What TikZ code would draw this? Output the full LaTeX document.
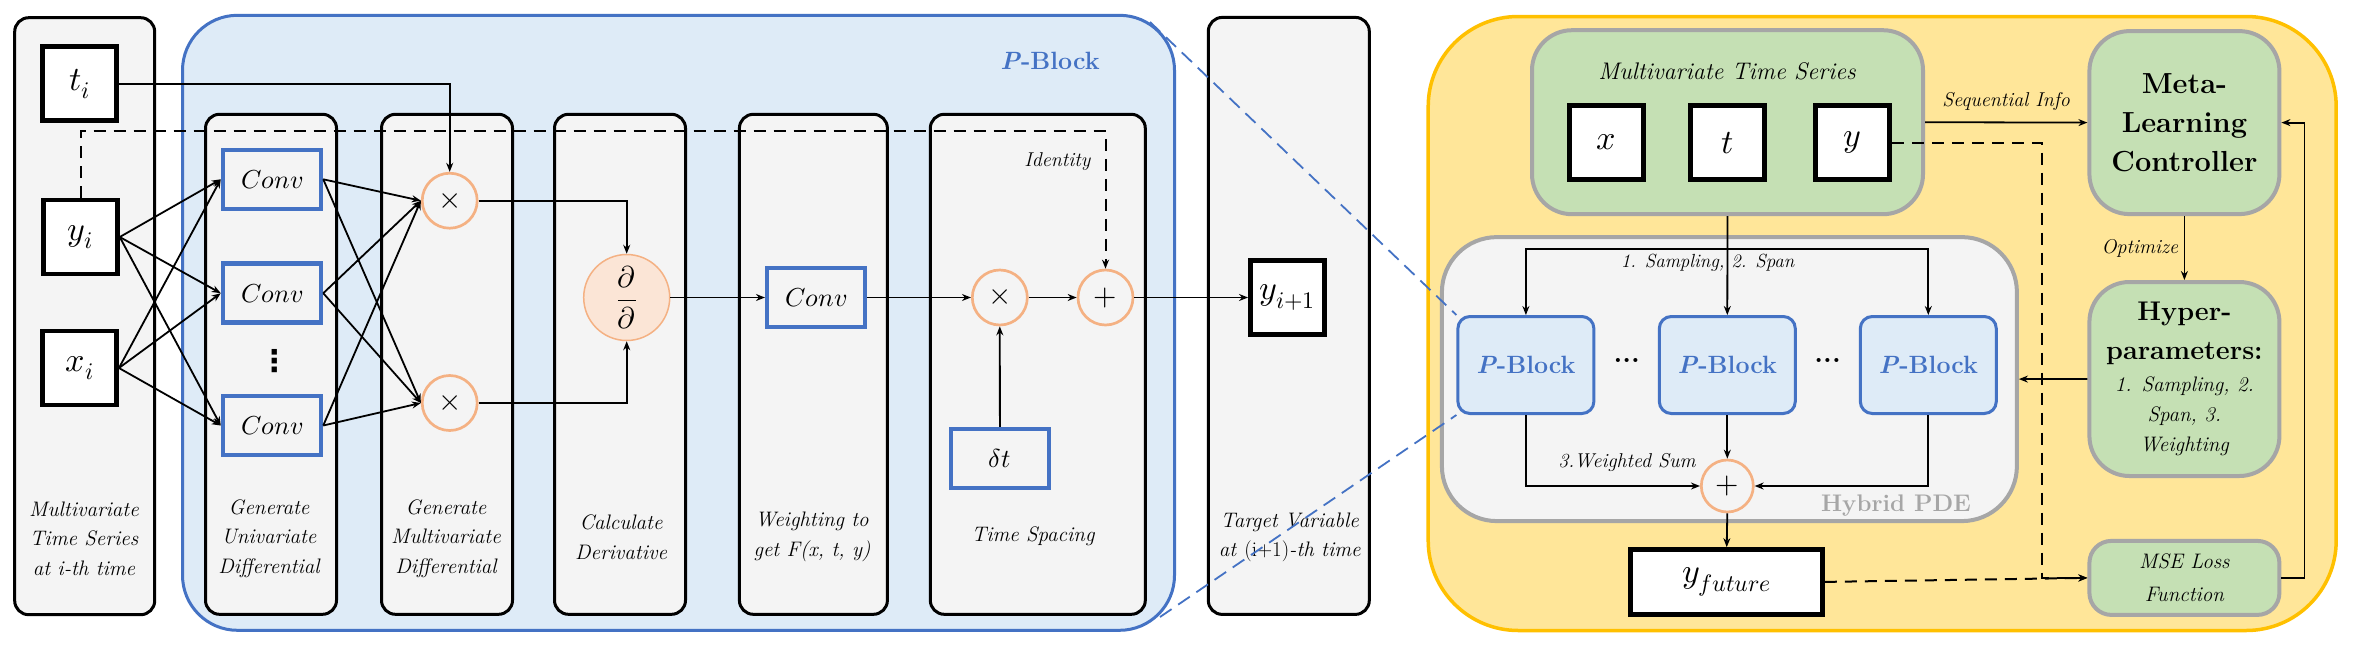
\documentclass[tikz,border=0pt]{standalone}
\usepackage{amsmath}
\usepackage{unicode-math}
\setmathfont{Latin Modern Math}
\newfontfamily\symfont{DejaVu Sans}
\usetikzlibrary{arrows.meta}

\definecolor{panelgray}{HTML}{F4F4F4}
\definecolor{pblue}{HTML}{4472C4}
\definecolor{pbluefill}{HTML}{DEEBF7}
\definecolor{porange}{HTML}{F4B183}
\definecolor{porangefill}{HTML}{FBE5D6}
\definecolor{hyellow}{HTML}{FFE699}
\definecolor{hyellowline}{HTML}{FFC000}
\definecolor{mgreen}{HTML}{C5E0B4}
\definecolor{mgray}{HTML}{A6A6A6}

\begin{document}
\begin{tikzpicture}[>={Stealth[length=9pt,width=7pt]}, x=1pt, y=-1pt]

\tikzset{
  pframe/.style={draw=pblue, line width=3pt, fill=pbluefill, rounded corners=55pt},
  hframe/.style={draw=hyellowline, line width=3.5pt, fill=hyellow, rounded corners=90pt},
  panel/.style={draw, line width=3pt, rounded corners=14pt, fill=panelgray, minimum width=131pt, minimum height=500pt},
  varbox/.style={draw, line width=4.5pt, fill=white, minimum width=74pt, minimum height=74pt, inner sep=0pt, font=\fontsize{34}{40}\selectfont},
  convbox/.style={draw=pblue, line width=4.5pt, fill=panelgray, minimum width=98pt, minimum height=59pt, font=\fontsize{26}{30}\selectfont},
  opnode/.style={circle, draw=porange, line width=2.7pt, minimum size=55pt, inner sep=0pt, font=\fontsize{30}{30}\selectfont},
  lab/.style={align=center, font=\fontsize{21}{29.5}\selectfont\itshape},
  slab/.style={font=\fontsize{20}{24}\selectfont\itshape},
  greenbox/.style={draw=mgray, line width=4pt, fill=mgreen, rounded corners=40pt, minimum width=190pt, align=center},
  pbsmall/.style={draw=pblue, line width=3pt, fill=pbluefill, rounded corners=12pt, minimum width=136pt, minimum height=97pt, text=pblue, font=\fontsize{25}{30}\selectfont\bfseries},
  arr/.style={->, line width=1.8pt},
  darr/.style={->, line width=2pt, dash pattern=on 12pt off 8pt},
  zoomline/.style={draw=pblue, line width=1.8pt, dash pattern=on 14pt off 8pt}
}

\useasboundingbox[fill=white] (0,0) rectangle (2354,646);

% --- Fundos ---
\node[pframe, minimum width=992pt, minimum height=615pt] (pblock) at (678.5,322.8) {};
\node[text=pblue, font=\fontsize{25}{30}\selectfont\bfseries] (ptitle) at (1050,61) {\textit{P}-Block};
\node[hframe, minimum width=908pt, minimum height=614pt] (hpanel) at (1882.2,323.5) {};

% --- Entrada no instante i ---
\node[panel, minimum width=140pt, minimum height=597pt] (inpanel) at (84.7,316.2) {};
\node[varbox] (ti) at (79.7,83.7) {$t_i$};
\node[varbox] (yi) at (80.5,237) {$y_i$};
\node[varbox] (xi) at (79.7,368) {$x_i$};
\node[lab] (inlab) at (84,538.5) {Multivariate\\Time Series\\at i-th time};

% --- Colunas do P-Block ---
\node[panel] (col1) at (271,364.3) {};
\node[panel] (col2) at (447,364.3) {};
\node[panel] (col3) at (620,364.3) {};
\node[panel, minimum width=148pt] (col4) at (813.4,364.3) {};
\node[panel, minimum width=215pt] (col5) at (1037.8,364.3) {};

% Coluna 1: diferenciais univariados
\node[convbox] (conv1) at (272,179.3) {$Conv$};
\node[convbox] (conv2) at (272,293.2) {$Conv$};
\node[convbox] (conv3) at (272,425.5) {$Conv$};
\node[font=\fontsize{30}{30}\selectfont\symfont\bfseries] (vdots) at (274.3,361.5) {⋮};
\node[lab] (lab1) at (269,538.5) {Generate\\Univariate\\Differential};

% Coluna 2: diferenciais multivariados
\node[opnode] (mul1) at (449.7,200.7) {$\times$};
\node[opnode] (mul2) at (449.7,403) {$\times$};
\node[lab] (lab2) at (446,538.5) {Generate\\Multivariate\\Differential};

% Coluna 3: derivada
\node[opnode, fill=porangefill, line width=1.5pt, minimum size=86pt] (deriv) at (626.7,297.5) {$\dfrac{\partial}{\partial}$};
\node[lab] (lab3) at (621,537) {Calculate\\Derivative};

% Coluna 4: pesos
\node[convbox] (conv4) at (816.2,297.5) {$Conv$};
\node[lab] (lab4) at (812,537) {Weighting to\\get F(x, t, y)};

% Coluna 5: espaçamento temporal
\node[opnode] (mul3) at (999.8,297.5) {$\times$};
\node[opnode] (plus1) at (1105.5,297.5) {$+$};
\node[convbox] (dt) at (999.9,458.5) {$\delta t$};
\node[slab, anchor=east] (idlab) at (1094,161.5) {Identity};
\node[lab] (lab5) at (1033,536.5) {Time Spacing};

% --- Saída no instante i+1 ---
\node[panel, minimum width=161pt, minimum height=597pt] (outpanel) at (1288.8,315.9) {};
\node[varbox] (ynext) at (1287.3,297.5) {$y_{i+1}$};
\node[lab] (outlab) at (1289.7,537.5) {Target Variable\\at \textup{(i+1)}-th time};

% --- Setas do P-Block ---
\draw[arr] (ti.east) -| (mul1.north);
\draw[darr] (yi.north) -- ++(0,-67) -| (plus1.north);

\draw[arr] (yi.east) -- (conv1.west);
\draw[arr] (yi.east) -- (conv2.west);
\draw[arr] (yi.east) -- (conv3.west);
\draw[arr] (xi.east) -- (conv1.west);
\draw[arr] (xi.east) -- (conv2.west);
\draw[arr] (xi.east) -- (conv3.west);

\draw[arr] (conv1.east) -- (mul1.west);
\draw[arr] (conv1.east) -- (mul2.west);
\draw[arr] (conv2.east) -- (mul1.west);
\draw[arr] (conv2.east) -- (mul2.west);
\draw[arr] (conv3.east) -- (mul1.west);
\draw[arr] (conv3.east) -- (mul2.west);

\draw[arr] (mul1.east) -| (deriv.north);
\draw[arr] (mul2.east) -| (deriv.south);
\draw[arr] (deriv.east) -- (conv4.west);
\draw[arr] (conv4.east) -- (mul3.west);
\draw[arr] (mul3.east) -- (plus1.west);
\draw[arr] (dt.north) -- (mul3.south);
\draw[arr] (plus1.east) -- (ynext.west);

% --- Painel amarelo: Hybrid PDE com meta-aprendizado ---
\node[greenbox, minimum width=391pt, minimum height=184pt] (mts) at (1727.5,122.2) {};
\node[slab, font=\fontsize{24}{28}\selectfont\itshape] (mtslab) at (1727,70.9) {Multivariate Time Series};
\node[varbox] (vx) at (1606.5,142.6) {$x$};
\node[varbox] (vt) at (1727.6,142.6) {$t$};
\node[varbox] (vy) at (1852.6,142.6) {$y$};

\node[draw=mgray, line width=4pt, fill=panelgray, rounded corners=55pt, minimum width=575pt, minimum height=284pt] (hybrid) at (1729.4,379.1) {};
\node[text=mgray, font=\fontsize{24}{28}\selectfont\bfseries] (hyblab) at (1896,505.6) {Hybrid PDE};

\node[pbsmall] (pbl) at (1525.9,365) {\textit{P}-Block};
\node[pbsmall] (pbm) at (1727.3,365) {\textit{P}-Block};
\node[pbsmall] (pbr) at (1928.3,365) {\textit{P}-Block};
\node[font=\fontsize{28}{30}\selectfont\bfseries] (dots1) at (1626.8,360) {...};
\node[font=\fontsize{28}{30}\selectfont\bfseries] (dots2) at (1827.6,360) {...};
\node[opnode, minimum size=52pt] (plus2) at (1727.3,486) {$+$};
\node[varbox, minimum width=192pt, minimum height=65pt] (yfut) at (1726.7,581.9) {$y_{future}$};

\node[greenbox, minimum height=183pt, font=\fontsize{29}{39}\selectfont\bfseries] (meta) at (2184.4,122.6) {Meta-\\Learning\\Controller};
\node[greenbox, minimum height=194pt, font=\fontsize{21}{30}\selectfont\itshape] (hyper) at (2184.4,379) {{\fontsize{27}{30}\selectfont\bfseries\upshape Hyper-}\\[9pt]{\fontsize{27}{30}\selectfont\bfseries\upshape parameters:}\\[2pt]1. Sampling, 2.\\Span, 3.\\Weighting};
\node[greenbox, rounded corners=22pt, minimum height=74pt, font=\fontsize{21}{33}\selectfont\itshape] (mse) at (2184.4,577.9) {MSE Loss\\Function};

% --- Setas do painel amarelo ---
\coordinate (split) at ([yshift=-33pt]mts.south);
\draw[arr] (mts.south) -- (pbm.north);
\draw[arr] (split) -| (pbl.north);
\draw[arr] (split) -| (pbr.north);
\node[slab, font=\fontsize{19}{24}\selectfont\itshape] (samplab) at (1707.5,263) {1. Sampling, 2. Span};

\draw[arr] (pbl.south) |- (plus2.west);
\draw[arr] (pbm.south) -- (plus2.north);
\draw[arr] (pbr.south) |- (plus2.east);
\node[slab] (wsumlab) at (1627,462) {3.Weighted Sum};
\draw[arr] (plus2.south) -- (yfut.north);

\draw[arr] (mts.east) -- (meta.west) node[midway, above=8pt, slab] (seqlab) {Sequential Info};
\draw[arr] (meta.south) -- (hyper.north) node[midway, left=2pt, slab] (optlab) {Optimize};
\draw[arr] (hyper.west) -- (hybrid.east);
\draw[arr] (mse.east) -- ++(23,0) |- (meta.east);

\draw[darr] (vy.east) -- ++(150,0) |- (mse.west);
\draw[darr] (yfut.east) -- (mse.west);

% --- Linhas de zoom do P-Block ---
\coordinate (pbtr) at (1150,22);
\coordinate (pbbr) at (1160,617);
\draw[zoomline] (pbtr) -- (pbl.north west);
\draw[zoomline] (pbbr) -- (pbl.south west);

\end{tikzpicture}
\end{document}
